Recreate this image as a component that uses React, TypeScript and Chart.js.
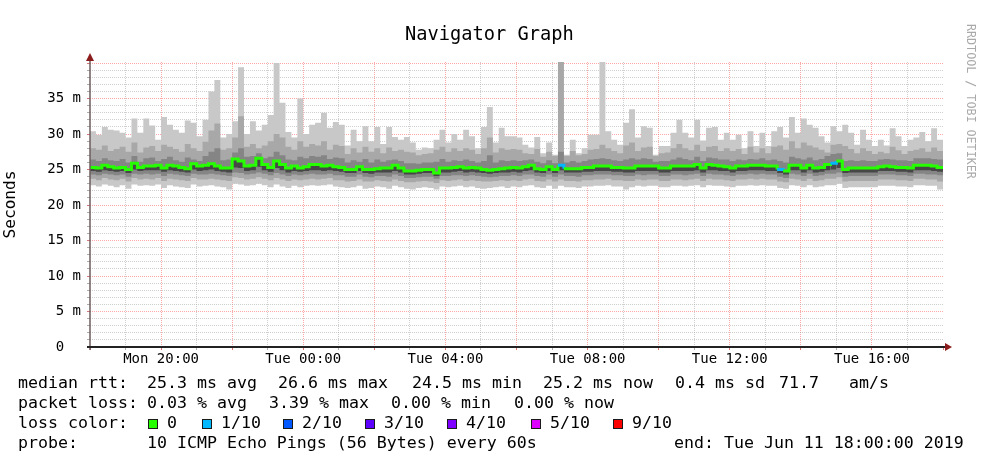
import React, { useEffect, useRef } from 'react';
import { Chart, registerables } from 'chart.js';

Chart.register(...registerables);

const FONT = '"DejaVu Sans Mono", "Liberation Mono", monospace';

// ---- data: 144 ten-minute buckets, Mon 18:00 -> Tue 18:00 (hours from start) ----
const medianRtt = [
  25.3, 25.2, 25.6, 25.4, 25.2, 25.3, 25.0, 25.9, 25.3, 25.5, 25.5, 25.6, 25.2, 25.6, 25.5, 25.3, 25.1, 25.8, 25.5, 25.6, 25.8, 25.5, 25.2, 25.2, 26.5, 26.2, 25.5, 25.6, 26.6, 25.7, 25.3, 26.2, 25.7, 25.2, 25.5, 25.2,
  25.4, 25.7, 25.7, 25.5, 25.6, 25.4, 25.3, 25.0, 25.0, 25.4, 25.0, 25.0, 25.1, 25.2, 25.2, 25.6, 25.2, 24.8, 24.8, 24.9, 25.0, 25.0, 24.5, 25.2, 25.2, 25.3, 25.4, 25.2, 25.3, 25.2, 25.0, 24.9, 25.0, 25.1, 25.2, 25.3,
  25.2, 25.4, 25.6, 25.1, 25.0, 25.4, 25.0, 25.6, 25.1, 25.1, 25.1, 25.3, 25.3, 25.5, 25.5, 25.5, 25.3, 25.3, 25.2, 25.2, 25.5, 25.5, 25.5, 25.5, 25.2, 25.2, 25.5, 25.5, 25.5, 25.5, 25.7, 25.2, 25.7, 25.6, 25.5, 25.4,
  25.2, 25.5, 25.5, 25.6, 25.6, 25.6, 25.5, 25.5, 25.0, 24.8, 25.6, 25.6, 25.2, 25.6, 25.2, 25.3, 25.7, 25.9, 26.2, 25.0, 25.2, 25.2, 25.2, 25.2, 25.2, 25.4, 25.5, 25.4, 25.3, 25.3, 25.2, 25.6, 25.6, 25.6, 25.5, 25.3,
];

const smokeMax = [
  30.4, 29.9, 31.0, 30.6, 30.5, 30.2, 29.5, 32.2, 30.2, 32.2, 31.2, 29.2, 32.4, 31.3, 30.6, 30.2, 31.9, 31.6, 29.7, 32.0, 36.0, 37.6, 29.5, 30.0, 31.8, 39.4, 30.0, 31.8, 30.5, 31.3, 32.7, 40.0, 34.4, 30.3, 29.5, 35.0,
  30.0, 31.3, 31.6, 33.0, 30.9, 31.7, 31.3, 28.4, 30.6, 29.0, 31.1, 29.0, 31.0, 28.6, 31.0, 29.6, 29.2, 29.6, 28.8, 27.8, 28.1, 28.0, 29.2, 30.6, 28.8, 30.0, 29.2, 30.6, 29.7, 28.0, 31.0, 33.8, 28.8, 30.9, 29.7, 29.7,
  29.5, 28.5, 28.1, 29.6, 27.3, 28.8, 27.1, 41.0, 27.1, 29.2, 27.3, 28.0, 29.9, 29.9, 41.0, 30.4, 29.2, 28.5, 31.6, 33.5, 29.5, 31.1, 30.9, 27.1, 28.3, 28.3, 30.2, 32.0, 30.2, 29.5, 32.0, 29.1, 30.9, 31.0, 29.2, 30.2,
  29.2, 29.9, 28.0, 30.4, 28.3, 30.2, 28.3, 30.4, 31.0, 29.5, 32.4, 30.2, 32.2, 31.3, 30.9, 29.7, 28.8, 31.1, 30.4, 31.3, 30.2, 28.5, 30.6, 29.2, 28.3, 29.2, 28.4, 30.8, 29.7, 28.3, 29.2, 29.5, 30.3, 29.0, 30.8, 29.2,
];

const smokeUpper2 = [
  28.0, 27.8, 28.4, 27.6, 27.9, 28.2, 27.5, 28.8, 27.4, 28.1, 28.3, 27.6, 28.5, 28.2, 27.9, 27.5, 28.6, 28.0, 27.6, 28.9, 30.5, 31.5, 27.8, 28.0, 29.5, 32.5, 28.2, 28.6, 28.0, 28.4, 29.0, 30.0, 29.5, 28.2, 27.8, 29.0,
  28.2, 28.6, 28.4, 29.0, 27.8, 28.5, 28.3, 27.2, 28.0, 27.4, 28.2, 27.5, 28.0, 27.3, 28.1, 27.6, 27.8, 27.5, 27.4, 27.0, 27.2, 27.3, 27.8, 28.2, 27.5, 28.0, 27.6, 28.0, 27.8, 27.2, 28.0, 29.5, 27.4, 28.0, 27.8, 27.9,
  27.8, 27.3, 27.2, 27.9, 26.8, 27.5, 26.9, 41.0, 26.9, 27.6, 27.0, 27.2, 27.8, 27.9, 28.5, 28.0, 27.6, 27.3, 28.4, 28.8, 27.6, 28.1, 28.2, 26.9, 27.3, 27.4, 28.0, 28.6, 28.0, 27.7, 28.5, 27.6, 28.2, 28.3, 27.6, 28.0,
  27.6, 27.9, 27.2, 28.2, 27.4, 28.0, 27.3, 28.2, 28.4, 27.8, 29.0, 28.0, 28.8, 28.4, 28.1, 27.8, 27.4, 28.5, 28.6, 28.3, 27.9, 27.3, 28.0, 27.6, 27.2, 27.5, 27.3, 28.2, 27.7, 27.2, 27.6, 27.8, 28.0, 27.5, 28.1, 27.6,
];

const smokeUpper3 = [
  26.4, 26.2, 26.6, 26.3, 26.2, 26.5, 26.0, 26.9, 26.1, 26.6, 26.7, 26.2, 26.5, 26.8, 26.3, 26.1, 26.7, 26.4, 26.2, 26.9, 27.5, 28.0, 26.3, 26.4, 27.4, 28.0, 26.8, 26.9, 27.3, 26.6, 26.8, 27.5, 27.0, 26.4, 26.3, 26.8,
  26.6, 26.9, 26.8, 27.0, 26.5, 26.7, 26.6, 26.0, 26.3, 26.1, 26.5, 26.0, 26.4, 26.1, 26.3, 26.4, 26.2, 25.9, 25.9, 25.8, 26.0, 26.0, 26.1, 26.5, 26.1, 26.3, 26.2, 26.4, 26.2, 26.0, 26.2, 27.0, 26.0, 26.3, 26.2, 26.3,
  26.2, 26.3, 26.4, 26.1, 25.9, 26.3, 25.9, 27.5, 26.0, 26.2, 26.0, 26.2, 26.4, 26.5, 26.6, 26.5, 26.3, 26.2, 26.4, 26.6, 26.4, 26.6, 26.5, 26.1, 26.2, 26.2, 26.4, 26.7, 26.5, 26.3, 26.8, 26.2, 26.7, 26.6, 26.4, 26.4,
  26.2, 26.4, 26.3, 26.5, 26.4, 26.6, 26.3, 26.4, 26.2, 26.0, 26.8, 26.6, 26.4, 26.7, 26.3, 26.5, 26.9, 27.2, 27.3, 26.2, 26.3, 26.2, 26.3, 26.2, 26.2, 26.4, 26.5, 26.4, 26.3, 26.3, 26.2, 26.6, 26.6, 26.6, 26.5, 26.4,
];

const smokeLower4 = [
  24.8, 24.7, 24.9, 24.8, 24.7, 24.8, 24.5, 25.0, 24.8, 24.9, 24.9, 24.9, 24.7, 24.9, 24.8, 24.7, 24.6, 25.0, 24.8, 24.9, 25.0, 24.8, 24.7, 24.6, 25.3, 25.2, 24.8, 24.9, 25.4, 24.9, 24.7, 25.2, 24.9, 24.6, 24.8, 24.7,
  24.8, 24.9, 24.9, 24.8, 24.9, 24.8, 24.7, 24.5, 24.5, 24.8, 24.5, 24.4, 24.6, 24.6, 24.6, 24.8, 24.6, 24.3, 24.3, 24.4, 24.5, 24.5, 24.1, 24.6, 24.6, 24.7, 24.8, 24.6, 24.7, 24.6, 24.5, 24.4, 24.5, 24.6, 24.6, 24.7,
  24.6, 24.8, 24.9, 24.6, 24.5, 24.8, 24.5, 24.9, 24.6, 24.6, 24.6, 24.7, 24.7, 24.8, 24.8, 24.8, 24.7, 24.7, 24.6, 24.6, 24.8, 24.8, 24.8, 24.8, 24.6, 24.6, 24.8, 24.8, 24.8, 24.8, 24.9, 24.6, 24.9, 24.9, 24.8, 24.8,
  24.6, 24.8, 24.8, 24.9, 24.9, 24.9, 24.8, 24.8, 24.5, 24.3, 24.9, 24.9, 24.6, 24.9, 24.6, 24.7, 24.9, 25.0, 25.2, 24.5, 24.6, 24.6, 24.6, 24.6, 24.6, 24.8, 24.8, 24.8, 24.7, 24.7, 24.6, 24.9, 24.9, 24.9, 24.8, 24.7,
];

const smokeLower3 = [
  24.3, 24.2, 24.4, 24.3, 24.2, 24.3, 24.0, 24.4, 24.3, 24.4, 24.3, 24.4, 24.1, 24.4, 24.3, 24.2, 24.1, 24.4, 24.3, 24.3, 24.4, 24.3, 24.2, 24.1, 24.6, 24.5, 24.3, 24.4, 24.6, 24.4, 24.2, 24.5, 24.3, 24.1, 24.3, 24.2,
  24.3, 24.4, 24.3, 24.3, 24.4, 24.2, 24.2, 24.0, 24.0, 24.3, 24.0, 23.9, 24.1, 24.1, 24.0, 24.3, 24.1, 23.8, 23.8, 23.9, 24.0, 24.0, 23.7, 24.1, 24.1, 24.2, 24.2, 24.1, 24.2, 24.1, 24.0, 23.9, 24.0, 24.1, 24.1, 24.2,
  24.1, 24.3, 24.3, 24.1, 24.0, 24.3, 24.0, 24.3, 24.1, 24.1, 24.0, 24.2, 24.2, 24.3, 24.3, 24.3, 24.2, 24.2, 24.1, 24.1, 24.3, 24.2, 24.3, 24.3, 24.1, 24.1, 24.3, 24.3, 24.2, 24.3, 24.4, 24.1, 24.4, 24.3, 24.3, 24.2,
  24.1, 24.3, 24.3, 24.4, 24.3, 24.4, 24.3, 24.3, 24.0, 23.8, 24.4, 24.3, 24.1, 24.4, 24.1, 24.2, 24.4, 24.4, 24.6, 24.0, 24.1, 24.1, 24.1, 24.1, 24.1, 24.3, 24.3, 24.3, 24.2, 24.2, 24.1, 24.4, 24.4, 24.3, 24.3, 24.2,
];

const smokeLower2 = [
  23.7, 23.5, 23.8, 23.6, 23.5, 23.7, 23.3, 23.8, 23.6, 23.7, 23.6, 23.8, 23.4, 23.7, 23.6, 23.5, 23.4, 23.8, 23.6, 23.6, 23.7, 23.6, 23.5, 23.4, 23.9, 23.8, 23.6, 23.7, 23.9, 23.7, 23.5, 23.8, 23.6, 23.4, 23.6, 23.5,
  23.6, 23.7, 23.6, 23.7, 23.8, 23.5, 23.5, 23.3, 23.4, 23.6, 23.3, 23.3, 23.5, 23.4, 23.3, 23.6, 23.4, 23.2, 23.2, 23.3, 23.4, 23.3, 23.1, 23.5, 23.4, 23.5, 23.6, 23.4, 23.5, 23.4, 23.3, 23.3, 23.4, 23.5, 23.4, 23.5,
  23.4, 23.6, 23.7, 23.4, 23.3, 23.6, 23.3, 23.6, 23.4, 23.4, 23.3, 23.5, 23.5, 23.6, 23.6, 23.7, 23.5, 23.5, 23.4, 23.4, 23.6, 23.5, 23.6, 23.6, 23.4, 23.4, 23.6, 23.6, 23.5, 23.6, 23.7, 23.4, 23.7, 23.6, 23.6, 23.5,
  23.4, 23.6, 23.6, 23.7, 23.6, 23.7, 23.6, 23.6, 23.3, 23.2, 23.7, 23.6, 23.4, 23.7, 23.4, 23.5, 23.7, 23.7, 23.9, 23.3, 23.4, 23.4, 23.4, 23.4, 23.4, 23.6, 23.6, 23.6, 23.5, 23.5, 23.4, 23.7, 23.7, 23.6, 23.6, 23.3,
];

const smokeMin = [
  22.8, 22.6, 22.9, 22.7, 22.5, 22.8, 22.3, 22.9, 22.7, 22.8, 22.7, 22.9, 22.4, 22.8, 22.6, 22.5, 22.4, 22.9, 22.6, 22.7, 22.8, 22.6, 22.5, 22.2, 23.0, 22.9, 22.7, 22.8, 23.0, 22.8, 22.5, 22.9, 22.6, 22.4, 22.7, 22.5,
  22.7, 22.8, 22.7, 22.8, 22.9, 22.6, 22.5, 22.4, 22.5, 22.7, 22.3, 22.4, 22.6, 22.5, 22.3, 22.7, 22.5, 22.3, 22.2, 22.4, 22.5, 22.4, 22.2, 22.6, 22.5, 22.6, 22.7, 22.5, 22.6, 22.4, 22.3, 22.4, 22.5, 22.6, 22.4, 22.6,
  22.5, 22.7, 22.8, 22.5, 22.4, 22.7, 22.3, 22.7, 22.5, 22.5, 22.4, 22.6, 22.6, 22.7, 22.7, 22.8, 22.6, 22.6, 22.2, 22.5, 22.7, 22.6, 22.7, 22.7, 22.5, 22.5, 22.7, 22.7, 22.6, 22.7, 22.8, 22.5, 22.8, 22.7, 22.7, 22.6,
  22.5, 22.7, 22.7, 22.8, 22.7, 22.8, 22.7, 22.7, 22.4, 22.3, 22.8, 22.7, 22.5, 22.8, 22.5, 22.6, 22.8, 22.8, 23.0, 22.4, 22.5, 22.5, 22.5, 22.5, 22.5, 22.7, 22.7, 22.7, 22.6, 22.6, 22.5, 22.8, 22.8, 22.7, 22.7, 22.2,
];

// buckets where the median was drawn with a loss colour (index into lossColors)
const lossBuckets = [79, 116, 125];
const lossBucketLevel = [1, 1, 1];

const lossLabels = ['0', '1/10', '2/10', '3/10', '4/10', '5/10', '9/10'];
const lossColors = ['#26ff00', '#00b8ff', '#0059ff', '#5e00ff', '#7e00ff', '#dd00ff', '#ff0000'];

const xTickHours = [2, 6, 10, 14, 18, 22];
const xTickLabels = ['Mon 20:00', 'Tue 00:00', 'Tue 04:00', 'Tue 08:00', 'Tue 12:00', 'Tue 16:00'];
const yTickValues = [0, 5, 10, 15, 20, 25, 30, 35];
const yTickLabels = ['0  ', '5 m', '10 m', '15 m', '20 m', '25 m', '30 m', '35 m'];

const rttStats = ['25.3 ms avg', '26.6 ms max', '24.5 ms min', '25.2 ms now', '0.4 ms sd', '71.7   am/s'];
const lossStats = ['0.03 % avg', '3.39 % max', '0.00 % min', '0.00 % now'];
const probeText = '10 ICMP Echo Pings (56 Bytes) every 60s';
const endText = 'end: Tue Jun 11 18:00:00 2019';

// ---- layout constants ----
const W = 998;
const H = 468;
const rttX = [147, 278, 412, 543, 675, 779];
const lossX = [147, 269, 391, 514];
const boxX = [148, 202, 283, 365, 447, 531, 613];

const BUCKETS_PER_HOUR = 6;
function toPoints(values: number[]) {
  const pts = values.map((v, i) => ({ x: i / BUCKETS_PER_HOUR, y: v }));
  pts.push({ x: values.length / BUCKETS_PER_HOUR, y: values[values.length - 1] });
  return pts;
}

function medianColorAt(i: number) {
  const k = lossBuckets.indexOf(i);
  return k >= 0 ? lossColors[lossBucketLevel[k]] : lossColors[0];
}

const axesPlugin = {
  id: 'rrdAxes',
  afterDraw(chart: any) {
    const { ctx, chartArea: a } = chart;
    ctx.save();
    ctx.setLineDash([]);
    // y axis
    ctx.strokeStyle = '#6e5c5c';
    ctx.lineWidth = 1.5;
    ctx.beginPath();
    ctx.moveTo(a.left, a.bottom + 3);
    ctx.lineTo(a.left, a.top - 2);
    ctx.stroke();
    // x axis
    ctx.strokeStyle = '#222222';
    ctx.lineWidth = 2;
    ctx.beginPath();
    ctx.moveTo(a.left - 3, a.bottom);
    ctx.lineTo(a.right + 3, a.bottom);
    ctx.stroke();
    // arrows
    ctx.fillStyle = '#8c1c1c';
    ctx.beginPath();
    ctx.moveTo(a.right + 9, a.bottom);
    ctx.lineTo(a.right + 2, a.bottom - 4);
    ctx.lineTo(a.right + 2, a.bottom + 4);
    ctx.closePath();
    ctx.fill();
    ctx.beginPath();
    ctx.moveTo(a.left, a.top - 9);
    ctx.lineTo(a.left - 4, a.top - 1);
    ctx.lineTo(a.left + 4, a.top - 1);
    ctx.closePath();
    ctx.fill();
    ctx.restore();
  },
};

const RED_GRID = 'rgba(255, 110, 110, 0.6)';
const GRAY_GRID = 'rgba(160, 160, 160, 0.5)';

function ChartCanvas() {
  const ref = useRef<HTMLCanvasElement | null>(null);
  useEffect(() => {
    if (!ref.current) return;
    const hidden = {
      borderWidth: 0,
      borderColor: 'transparent',
      backgroundColor: 'transparent',
      pointRadius: 0,
      fill: false,
      stepped: true,
      order: 10,
    };
    const chart = new Chart(ref.current, {
      type: 'line',
      data: {
        datasets: [
          {
            label: 'median',
            data: toPoints(medianRtt),
            stepped: true,
            borderWidth: 3,
            borderColor: lossColors[0],
            backgroundColor: '#474747',
            fill: 1,
            pointRadius: 0,
            order: 0,
            segment: {
              borderColor: (c: any) => medianColorAt(c.p0DataIndex),
            },
          } as any,
          { label: 'lo4', data: toPoints(smokeLower4), ...hidden } as any,
          {
            label: 'up3',
            data: toPoints(smokeUpper3),
            stepped: true,
            borderWidth: 0,
            borderColor: 'transparent',
            backgroundColor: '#858585',
            fill: 3,
            pointRadius: 0,
            order: 1,
          } as any,
          { label: 'lo3', data: toPoints(smokeLower3), ...hidden } as any,
          {
            label: 'up2',
            data: toPoints(smokeUpper2),
            stepped: true,
            borderWidth: 0,
            borderColor: 'transparent',
            backgroundColor: '#a8a8a8',
            fill: 5,
            pointRadius: 0,
            order: 2,
          } as any,
          { label: 'lo2', data: toPoints(smokeLower2), ...hidden } as any,
          {
            label: 'max',
            data: toPoints(smokeMax),
            stepped: true,
            borderWidth: 0,
            borderColor: 'transparent',
            backgroundColor: '#c8c8c8',
            fill: 7,
            pointRadius: 0,
            order: 3,
          } as any,
          { label: 'min', data: toPoints(smokeMin), ...hidden } as any,
        ],
      },
      options: {
        animation: false,
        responsive: false,
        events: [],
        layout: { padding: { top: 62, right: 55, bottom: 0, left: 0 } },
        plugins: {
          legend: { display: false },
          tooltip: { enabled: false },
          title: { display: false },
        },
        scales: {
          x: {
            type: 'linear',
            min: 0,
            max: 24,
            afterFit: (s: any) => {
              s.height = H - 347;
            },
            ticks: {
              stepSize: 1,
              autoSkip: false,
              maxRotation: 0,
              minRotation: 0,
              padding: 1,
              color: '#000',
              font: { family: FONT, size: 14 },
              callback: (v: any) => {
                const k = xTickHours.indexOf(Number(v));
                return k >= 0 ? xTickLabels[k] : '';
              },
            },
            grid: {
              drawTicks: true,
              tickLength: 3,
              lineWidth: 1,
              color: (c: any) => {
                const v = c.tick ? c.tick.value : 0;
                if (v <= 0 || v >= 24) return 'transparent';
                return v % 2 === 0 ? RED_GRID : GRAY_GRID;
              },
              tickColor: (c: any) => {
                const v = c.tick ? c.tick.value : 0;
                return v % 2 === 0 ? 'rgba(200,60,60,0.7)' : 'rgba(120,120,120,0.6)';
              },
            },
            border: { display: false, dash: [1, 1] },
          },
          y: {
            type: 'linear',
            min: 0,
            max: 40.15,
            afterFit: (s: any) => {
              s.width = 90;
            },
            ticks: {
              stepSize: 1,
              autoSkip: false,
              includeBounds: false,
              padding: 6,
              color: '#000',
              font: { family: FONT, size: 14 },
              callback: (v: any) => {
                const k = yTickValues.indexOf(Number(v));
                return k >= 0 ? yTickLabels[k] : '';
              },
            },
            grid: {
              drawTicks: true,
              tickLength: 3,
              lineWidth: 1,
              color: (c: any) => {
                const v = c.tick ? c.tick.value : 0;
                if (v <= 0) return 'transparent';
                return v % 5 === 0 ? RED_GRID : GRAY_GRID;
              },
              tickColor: (c: any) => {
                const v = c.tick ? c.tick.value : 0;
                return v % 5 === 0 ? 'rgba(200,60,60,0.7)' : 'rgba(120,120,120,0.6)';
              },
            },
            border: { display: false, dash: [1, 1] },
            title: {
              display: true,
              text: 'Seconds',
              color: '#000',
              font: { family: FONT, size: 16.2 },
              padding: { top: 1, bottom: 0 },
            },
          },
        },
      },
      plugins: [axesPlugin as any],
    } as any);
    return () => chart.destroy();
  }, []);
  return <canvas ref={ref} width={W} height={H} style={{ width: W, height: H, display: 'block' }} />;
}

const textBase: React.CSSProperties = {
  position: 'absolute',
  fontFamily: FONT,
  fontSize: 16.6,
  lineHeight: '20px',
  color: '#000',
  whiteSpace: 'pre',
};

export default function App() {
  const row = (i: number) => 373 + i * 20;
  return (
    <div style={{ position: 'absolute', left: 0, top: 0, width: W, height: H, background: '#fff', overflow: 'hidden' }}>
      <ChartCanvas />
      <div
        style={{
          position: 'absolute',
          left: 0,
          width: 979,
          top: 22,
          textAlign: 'center',
          fontFamily: FONT,
          fontSize: 18.7,
          lineHeight: '24px',
          color: '#000',
          whiteSpace: 'pre',
        }}
      >
        Navigator Graph
      </div>
      <div
        style={{
          position: 'absolute',
          left: 964,
          top: 24,
          writingMode: 'vertical-rl',
          fontFamily: FONT,
          fontSize: 11.7,
          lineHeight: '14px',
          color: '#a9a9a9',
          whiteSpace: 'pre',
        }}
      >
        RRDTOOL / TOBI OETIKER
      </div>

      <div style={{ ...textBase, left: 18, top: row(0) }}>median rtt:</div>
      {rttStats.map((t, i) => (
        <div key={'r' + i} style={{ ...textBase, left: rttX[i], top: row(0) }}>{t}</div>
      ))}

      <div style={{ ...textBase, left: 18, top: row(1) }}>packet loss:</div>
      {lossStats.map((t, i) => (
        <div key={'l' + i} style={{ ...textBase, left: lossX[i], top: row(1) }}>{t}</div>
      ))}

      <div style={{ ...textBase, left: 18, top: row(2) }}>loss color:</div>
      {lossLabels.map((t, i) => (
        <React.Fragment key={'c' + i}>
          <div
            style={{
              position: 'absolute',
              left: boxX[i],
              top: 419,
              width: 8,
              height: 8,
              background: lossColors[i],
              border: '1px solid #1a1a1a',
            }}
          />
          <div style={{ ...textBase, left: boxX[i] + 19, top: row(2) }}>{t}</div>
        </React.Fragment>
      ))}

      <div style={{ ...textBase, left: 18, top: row(3) }}>probe:</div>
      <div style={{ ...textBase, left: 147, top: row(3) }}>{probeText}</div>
      <div style={{ ...textBase, left: 674, top: row(3) }}>{endText}</div>
    </div>
  );
}
